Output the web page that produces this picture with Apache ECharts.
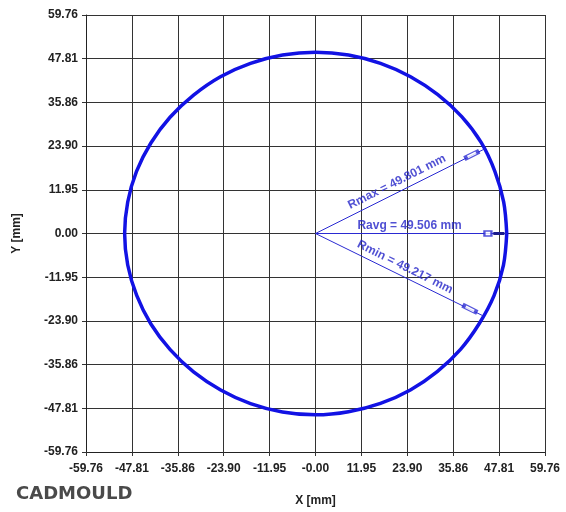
<!DOCTYPE html>
<html>
<head>
<meta charset="utf-8">
<script src="https://cdn.jsdelivr.net/npm/echarts@6/dist/echarts.min.js"></script>
<style>
html,body{margin:0;padding:0;background:#fff;}
#chart{width:566px;height:512px;}
</style>
</head>
<body>
<div id="chart"></div>
<script>
// Axis settings / tick labels
const axisMin = -59.76;
const axisMax = 59.76;
const axisStep = 11.952;
const xTickLabels = ['-59.76','-47.81','-35.86','-23.90','-11.95','-0.00','11.95','23.90','35.86','47.81','59.76'];
const yTickLabels = ['-59.76','-47.81','-35.86','-23.90','-11.95','0.00','11.95','23.90','35.86','47.81','59.76'];

// Measured contour: radius (mm) read every 10 degrees, starting at 0 deg (counter-clockwise)
const contourAngleDeg = [0,10,20,30,40,50,60,70,80,90,100,110,120,130,140,150,160,170,180,190,200,210,220,230,240,250,260,270,280,290,300,310,320,330,340,350,360];
const contourRadius = [49.80,49.75,49.70,49.80,49.70,49.55,49.50,49.50,49.55,49.60,49.55,49.50,49.50,49.40,49.45,49.50,49.60,49.65,49.70,49.65,49.55,49.50,49.40,49.40,49.40,49.50,49.55,49.60,49.50,49.45,49.40,49.30,49.30,49.25,49.50,49.70,49.80];

// Radius annotations
const radiusNames = ['Rmax = 49.801 mm', 'Ravg = 49.506 mm', 'Rmin = 49.217 mm'];
const radiusEndX = [44.08, 49.80, 43.73];
const radiusEndY = [23.15, 0.00, -22.57];
const radiusLabelX = [21.2, 24.5, 23.3];
const radiusLabelY = [14.1, 2.0, -9.2];
const radiusAngle = [26.6, 0, -26.6];
const markerX = [40.7, 44.9, 40.2];
const markerY = [21.5, 0.0, -20.6];

// polar (measured) -> cartesian for the value axes
const contour = contourAngleDeg.map((a, i) => {
  const t = a * Math.PI / 180;
  return [contourRadius[i] * Math.cos(t), contourRadius[i] * Math.sin(t)];
});

const chart = echarts.init(document.getElementById('chart'));
const blue = '#1212e4';
const annBlue = '#2a2ad2';

const series = [
  {
    type: 'line',
    data: contour,
    smooth: 0.34,
    showSymbol: false,
    symbol: 'none',
    lineStyle: { color: blue, width: 3.5 },
    z: 5,
    silent: true
  }
];
radiusEndX.forEach((x, i) => {
  series.push({
    type: 'line',
    data: [[0, 0], [x, radiusEndY[i]]],
    showSymbol: false,
    symbol: 'none',
    lineStyle: { color: annBlue, width: 1 },
    z: 6,
    silent: true
  });
});
// thick end segment on Ravg
series.push({
  type: 'line',
  data: [[46.3, 0], [49.2, 0]],
  showSymbol: false,
  symbol: 'none',
  lineStyle: { color: '#1c1c8c', width: 3 },
  z: 6,
  silent: true
});
// hollow markers
series.push({
  type: 'scatter',
  data: markerX.map((x, i) => ({
    value: [x, markerY[i]],
    symbolRotate: radiusAngle[i],
    symbolSize: i === 1 ? [7, 5] : [13, 4]
  })),
  symbol: 'emptyRect',
  itemStyle: { color: annBlue, borderColor: annBlue, borderWidth: 1 },
  z: 7,
  silent: true
});
// labels
series.push({
  type: 'scatter',
  data: radiusLabelX.map((x, i) => ({
    value: [x, radiusLabelY[i]],
    label: { rotate: radiusAngle[i], formatter: radiusNames[i] }
  })),
  symbolSize: 1,
  itemStyle: { color: 'rgba(0,0,0,0)' },
  label: {
    show: true,
    position: 'inside',
    color: '#2424c8',
    fontFamily: 'Liberation Sans, Arial, sans-serif',
    fontSize: 12,
    fontWeight: 'bold'
  },
  z: 8,
  silent: true
});

function axisCommon(labels, isX) {
  return {
    type: 'value',
    min: axisMin,
    max: axisMax,
    interval: axisStep,
    axisLine: { show: true, onZero: false, lineStyle: { color: '#222', width: 1 } },
    axisTick: { show: true, inside: false, length: 4, lineStyle: { color: '#333' } },
    splitLine: { show: true, lineStyle: { color: '#333', width: 1 } },
    axisLabel: {
      color: '#222',
      fontFamily: 'Liberation Sans, Arial, sans-serif',
      fontSize: 12,
      fontWeight: 'bold',
      margin: isX ? 11 : 8,
      formatter: v => labels[Math.round((v - axisMin) / axisStep)]
    },
    nameLocation: 'middle',
    nameTextStyle: {
      color: '#222',
      fontFamily: 'Liberation Sans, Arial, sans-serif',
      fontSize: 12,
      fontWeight: 'bold'
    }
  };
}

const xAxis = axisCommon(xTickLabels, true);
xAxis.name = 'X [mm]';
xAxis.nameGap = 43;
const yAxis = axisCommon(yTickLabels, false);
yAxis.name = 'Y [mm]';
yAxis.nameGap = 63;

chart.setOption({
  animation: false,
  backgroundColor: '#fff',
  grid: { left: 86, right: 21, top: 15, bottom: 52, containLabel: false },
  xAxis: xAxis,
  yAxis: yAxis,
  series: series,
  graphic: [
    {
      type: 'text',
      left: 16,
      top: 485,
      style: {
        text: 'CADMOULD',
        fill: '#4a4a4a',
        font: 'bold 18px "DejaVu Sans", sans-serif'
      }
    }
  ]
});
</script>
</body>
</html>
